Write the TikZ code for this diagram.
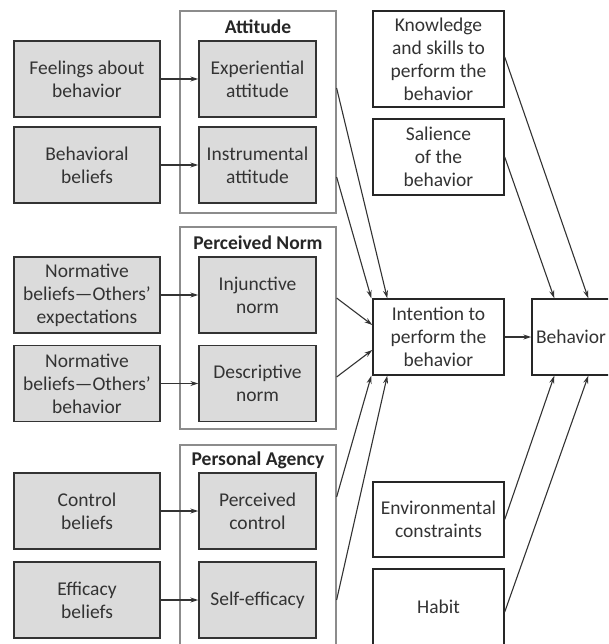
\documentclass[tikz,border=0pt]{standalone}
\usepackage{fontspec}
\setmainfont{Carlito}
\usetikzlibrary{arrows.meta,positioning,calc}
\tikzset{
  src/.style ={draw=black!80,line width=1.4pt,fill=black!14,align=center,
               minimum width=146pt,minimum height=76pt,inner sep=2pt,text=black!80},
  fac/.style ={src,minimum width=117pt},
  ext/.style ={draw=black!85,line width=1.4pt,fill=white,align=center,
               minimum width=131pt,minimum height=76pt,inner sep=2pt,text=black!80},
  grp/.style ={draw=black!45,line width=1.2pt,minimum width=156pt,minimum height=202pt},
  ttl/.style ={font=\fontsize{19.5}{23}\selectfont\bfseries,text=black!85,inner sep=0pt},
  ar/.style  ={-{Stealth[length=8pt,width=5pt]},line width=1.1pt,draw=black!80},
}

\begin{document}
\begin{tikzpicture}[x=1pt,y=-1pt,font=\fontsize{19.5}{23}\selectfont]
  \clip (0,0) rectangle (608,644);
  \fill[white] (0,0) rectangle (608,644);
  % group frames
  \node[grp] (att) at (258,112) {};
  \node[grp] (nrm) at (258,328) {};
  \node[grp,minimum height=215pt] (agn) at (258,552.5) {};
  \node[ttl] (attT) at (258,27)  {Attitude};
  \node[ttl] (nrmT) at (258,243) {Perceived Norm};
  \node[ttl] (agnT) at (258,460) {Personal Agency};
  % beliefs
  \node[src] (feel)   at (87,79)    {Feelings about\\behavior};
  \node[src] (behbel) at (87,165)   {Behavioral\\beliefs};
  \node[src] (nrmexp) at (87,295)   {Normative\\beliefs---Others'\\expectations};
  \node[src] (nrmbeh) at (87,383.5) {Normative\\beliefs---Others'\\behavior};
  \node[src] (ctlbel) at (87,511)   {Control\\beliefs};
  \node[src] (effbel) at (87,600)   {Efficacy\\beliefs};
  % constructs
  \node[fac] (expatt) at (257.5,79)    {Experiential\\attitude};
  \node[fac] (insatt) at (257.5,165)   {Instrumental\\attitude};
  \node[fac] (injnrm) at (257.5,295)   {Injunctive\\norm};
  \node[fac] (desnrm) at (257.5,383.5) {Descriptive\\norm};
  \node[fac] (prcctl) at (257.5,511)   {Perceived\\control};
  \node[fac] (slfeff) at (257.5,600)   {Self-efficacy};
  % right column
  \node[ext,minimum height=96pt] (know) at (438.5,59) {Knowledge\\and skills to\\perform the\\behavior};
  \node[ext] (sal)    at (438.5,157)   {Salience\\of the\\behavior};
  \node[ext] (intent) at (438.5,337)   {Intention to\\perform the\\behavior};
  \node[ext,minimum height=75pt] (env) at (438.5,519.5) {Environmental\\constraints};
  \node[ext] (habit)  at (438.5,607)   {Habit};
  \node[ext,minimum width=78pt,inner xsep=0pt] (behav) at (571,337) {Behavior};
  % arrows into constructs
  \draw[ar] (feel)   -- (expatt);
  \draw[ar] (behbel) -- (insatt);
  \draw[ar] (nrmexp) -- (injnrm);
  \draw[ar] (nrmbeh) -- (desnrm);
  \draw[ar] (ctlbel) -- (prcctl);
  \draw[ar] (effbel) -- (slfeff);
  % arrows into intention
  \draw[ar] ([yshift=-9pt]expatt.east -| att.east)  -- ([xshift=15pt]intent.north west);
  \draw[ar] ([yshift=-12pt]insatt.east -| att.east) -- ([xshift=-1pt]intent.north west);
  \draw[ar] ([yshift=-3pt]injnrm.east -| nrm.east)  -- ([yshift=12pt]intent.west);
  \draw[ar] ([yshift=6.5pt]desnrm.east -| nrm.east) -- ([yshift=-13pt]intent.west);
  \draw[ar] ([yshift=14pt]prcctl.east -| agn.east)  -- ([xshift=-1pt]intent.south west);
  \draw[ar] (slfeff.east -| agn.east)               -- ([xshift=15pt]intent.south west);
  % arrows into behavior
  \draw[ar] (intent) -- (behav);
  \draw[ar] ([yshift=2pt]know.east)   -- ([xshift=57pt]behav.north west);
  \draw[ar] (sal.east)                -- ([xshift=23pt]behav.north west);
  \draw[ar] (env.east)                -- ([xshift=23pt]behav.south west);
  \draw[ar] ([yshift=-5pt]habit.east) -- ([xshift=57pt]behav.south west);
\end{tikzpicture}
\end{document}
